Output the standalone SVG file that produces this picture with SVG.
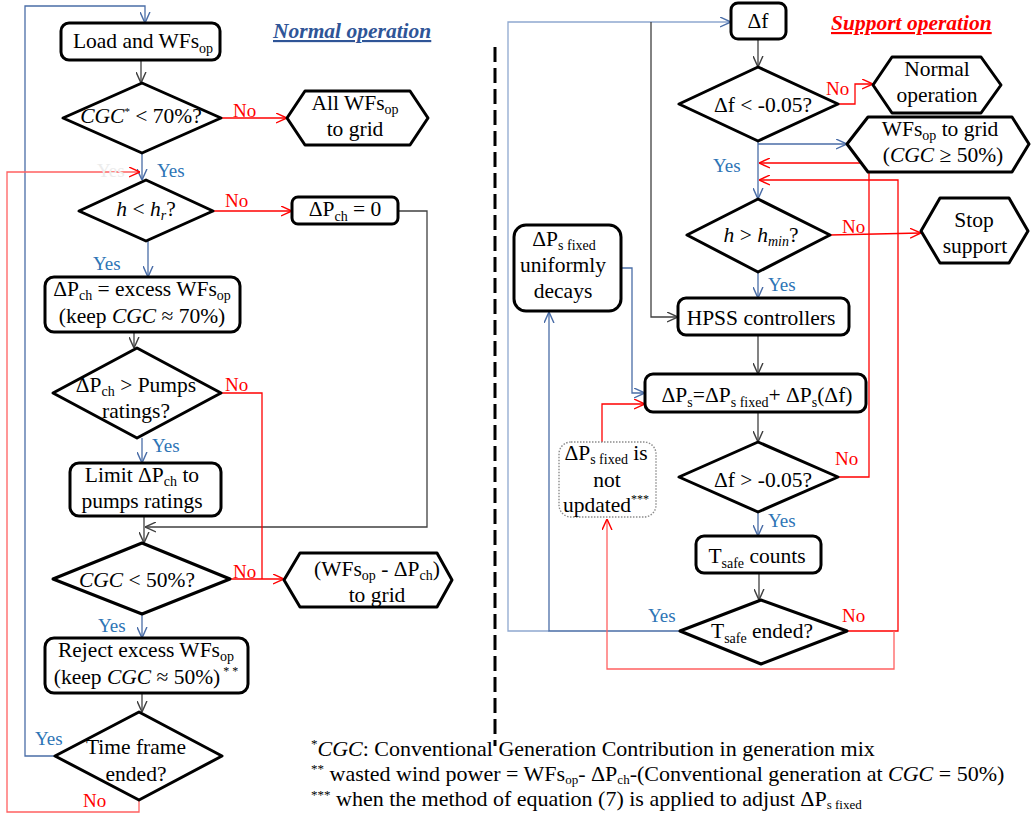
<svg xmlns="http://www.w3.org/2000/svg" width="1031" height="821" viewBox="0 0 1031 821">
<defs>
<style>
text{font-family:'Liberation Serif','DejaVu Serif','Noto Serif',serif}
.t{font-size:21.5px;fill:#000}
.c{text-anchor:middle}
.s{font-size:14px}
.i{font-style:italic}
.yes{font-size:19px;fill:#2e75b6}
.no{font-size:19px;fill:#ff0000}
.node{fill:#fff;stroke:#000;stroke-width:3;stroke-linejoin:round}
.cb{fill:none;stroke:#4a6da7;stroke-width:1.3}
.cl{fill:none;stroke:#8fa8cf;stroke-width:1.3}
.cr{fill:none;stroke:#ff0000;stroke-width:1.3}
.cp{fill:none;stroke:#ff6060;stroke-width:1.3}
.cg{fill:none;stroke:#404040;stroke-width:1.3}
.title{font-size:21.5px;font-weight:bold;font-style:italic;text-decoration:underline}
.fn{font-size:22px;fill:#000}
.fs{font-size:13px}
</style>
<marker id="ab" viewBox="0 0 10 10" refX="10" refY="5" markerWidth="11" markerHeight="11" markerUnits="userSpaceOnUse" orient="auto"><path d="M0,0.5 L10,5 L0,9.5" fill="none" stroke="#4a6da7" stroke-width="1.3"/></marker>
<marker id="ar" viewBox="0 0 10 10" refX="10" refY="5" markerWidth="11" markerHeight="11" markerUnits="userSpaceOnUse" orient="auto"><path d="M0,0.5 L10,5 L0,9.5" fill="none" stroke="#ff0000" stroke-width="1.3"/></marker>
<marker id="ag" viewBox="0 0 10 10" refX="10" refY="5" markerWidth="11" markerHeight="11" markerUnits="userSpaceOnUse" orient="auto"><path d="M0,0.5 L10,5 L0,9.5" fill="none" stroke="#404040" stroke-width="1.3"/></marker>
</defs>
<rect width="1031" height="821" fill="#fff"/>

<g id="connectors">
<path class="cb" d="M55,756 H25 V6 H145 V23" marker-end="url(#ab)"/>
<path class="cg" d="M141,60 V83" marker-end="url(#ag)"/>
<path class="cb" d="M142,153 V180" marker-end="url(#ab)"/>
<path class="cp" d="M139,800 V812 H7 V172 H140" marker-end="url(#ar)"/>
<path class="cr" d="M221,118 H287" marker-end="url(#ar)"/>
<path class="cr" d="M213,211 H292" marker-end="url(#ar)"/>
<path class="cg" stroke="#707070" d="M398,211 H427 V527 H145" marker-end="url(#ag)"/>
<path class="cb" d="M148,241 V277" marker-end="url(#ab)"/>
<path class="cg" d="M134,332 V348" marker-end="url(#ag)"/>
<path class="cb" d="M142,438 V463" marker-end="url(#ab)"/>
<path class="cr" d="M221,393 H262 V579"/>
<path class="cr" d="M230,579 H284" marker-end="url(#ar)"/>
<path class="cg" d="M144,516 V543" marker-end="url(#ag)"/>
<path class="cb" d="M142,614 V638" marker-end="url(#ab)"/>
<path class="cg" d="M142,693 V712" marker-end="url(#ag)"/>
<path class="cl" d="M549,631 H508 V22 H731" marker-end="url(#ab)"/>
<path class="cb" d="M680,631 H549 V312" marker-end="url(#ab)"/>
<path class="cg" d="M651,22 V317 H678" marker-end="url(#ag)"/>
<path class="cg" d="M758,39 V67" marker-end="url(#ag)"/>
<path class="cr" d="M838,104 H855 V84 H873" marker-end="url(#ar)"/>
<path class="cb" d="M758,141 V199" marker-end="url(#ab)"/>
<path class="cb" d="M758,144 H847" marker-end="url(#ab)"/>
<path class="cr" d="M838,477 H869 V163 H759" marker-end="url(#ar)"/>
<path class="cr" d="M847,631 H898 V180 H759" marker-end="url(#ar)"/>
<path class="cp" d="M894,631 V669 H607 V519" marker-end="url(#ar)"/>
<path class="cr" d="M830,235 L921,233" marker-end="url(#ar)"/>
<path class="cb" d="M758,272 V298" marker-end="url(#ab)"/>
<path class="cg" d="M758,335 V374" marker-end="url(#ag)"/>
<path class="cb" d="M621,268 H632 V393 H645" marker-end="url(#ab)"/>
<path class="cr" d="M602,442 V404 H645" marker-end="url(#ar)"/>
<path class="cg" d="M758,412 V442" marker-end="url(#ag)"/>
<path class="cb" d="M758,512 V536" marker-end="url(#ab)"/>
<path class="cg" d="M759,573 V600" marker-end="url(#ag)"/>
</g>

<g id="divider"><path d="M495,47 V746" stroke="#000" stroke-width="3" stroke-dasharray="15 6"/></g>

<g id="titles">
<text class="title" x="273" y="38" fill="#2f5597">Normal operation</text>
<text class="title" x="831" y="30" fill="#ff0000">Support operation</text>
</g>

<g id="labels">
<text class="yes" x="97" y="177" style="fill:#ececec">Yes</text>
<text class="yes" x="157" y="177">Yes</text>
<text class="no" x="233" y="117">No</text>
<text class="no" x="225" y="207">No</text>
<text class="yes" x="93" y="270">Yes</text>
<text class="no" x="225" y="391">No</text>
<text class="yes" x="152" y="452">Yes</text>
<text class="no" x="233" y="578">No</text>
<text class="yes" x="98" y="632">Yes</text>
<text class="yes" x="35" y="745">Yes</text>
<text class="no" x="83" y="807">No</text>
<text class="no" x="826" y="95">No</text>
<text class="yes" x="713" y="172">Yes</text>
<text class="no" x="842" y="233">No</text>
<text class="yes" x="768" y="291">Yes</text>
<text class="no" x="835" y="465">No</text>
<text class="yes" x="768" y="527">Yes</text>
<text class="yes" x="648" y="622">Yes</text>
<text class="no" x="842" y="622">No</text>
</g>

<g id="n-load"><rect class="node" x="61" y="23" width="159" height="37" rx="8"/>
<text class="t c" x="143" y="48">Load and WFs<tspan class="s" dy="5">op</tspan></text></g>

<g id="n-cgc70"><polygon class="node" points="63,118 142,83 221,118 142,153"/>
<text class="t c" x="141" y="123"><tspan class="i">CGC</tspan><tspan font-size="11" dy="-8">*</tspan><tspan dy="8"> &lt; 70%?</tspan></text></g>

<g id="n-allwfs"><polygon class="node" points="287,118 305,91 410,91 428,118 410,145 305,145"/>
<text class="t c" x="355" y="110">All WFs<tspan class="s" dy="4">op</tspan></text>
<text class="t c" x="355" y="136">to grid</text></g>

<g id="n-hhr"><polygon class="node" points="79,211 146,180 213,211 146,241"/>
<text class="t c" x="146" y="216"><tspan class="i">h</tspan> &lt; <tspan class="i">h</tspan><tspan class="s i" dy="4">r</tspan><tspan dy="-4">?</tspan></text></g>

<g id="n-dpch0"><rect class="node" x="292" y="197" width="106" height="27" rx="6"/>
<text class="t c" x="345" y="216">ΔP<tspan class="s" dy="5">ch</tspan><tspan dy="-5"> = 0</tspan></text></g>

<g id="n-excess"><rect class="node" x="45" y="277" width="195" height="55" rx="9"/>
<text class="t c" x="142" y="296">ΔP<tspan class="s" dy="4">ch</tspan><tspan dy="-4"> = excess WFs</tspan><tspan class="s" dy="4">op</tspan></text>
<text class="t c" x="142" y="323">(keep <tspan class="i">CGC</tspan> ≈ 70%)</text></g>

<g id="n-pumps"><polygon class="node" points="53,393 137,348 221,393 137,438"/>
<text class="t c" x="136" y="392">ΔP<tspan class="s" dy="4">ch</tspan><tspan dy="-4"> &gt; Pumps</tspan></text>
<text class="t c" x="136" y="418">ratings?</text></g>

<g id="n-limit"><rect class="node" x="70" y="463" width="151" height="53" rx="9"/>
<text class="t c" x="142" y="482">Limit ΔP<tspan class="s" dy="4">ch</tspan><tspan dy="-4"> to</tspan></text>
<text class="t c" x="142" y="508">pumps ratings</text></g>

<g id="n-cgc50"><polygon class="node" points="53,579 142,543 230,579 142,614"/>
<text class="t c" x="137" y="587"><tspan class="i">CGC</tspan> &lt; 50%?</text></g>

<g id="n-wfsdpch"><polygon class="node" points="284,580 300,553 437,553 452,580 437,607 300,607"/>
<text class="t c" x="377" y="576">(WFs<tspan class="s" dy="4">op</tspan><tspan dy="-4"> - ΔP</tspan><tspan class="s" dy="4">ch</tspan><tspan dy="-4">)</tspan></text>
<text class="t c" x="377" y="602">to grid</text></g>

<g id="n-reject"><rect class="node" x="45" y="638" width="203" height="55" rx="9"/>
<text class="t c" x="146" y="657">Reject excess WFs<tspan class="s" dy="4">op</tspan></text>
<text class="t c" x="146" y="684">(keep <tspan class="i">CGC</tspan> ≈ 50%)<tspan font-size="12" dy="-9"> * *</tspan></text></g>

<g id="n-time"><polygon class="node" points="55,756 139,712 222,756 139,800"/>
<text class="t c" x="136" y="754">Time frame</text>
<text class="t c" x="136" y="781">ended?</text></g>

<g id="n-df"><rect class="node" x="731" y="3" width="55" height="36" rx="7"/>
<text class="t c" x="758" y="28">Δf</text></g>

<g id="n-dflt"><polygon class="node" points="679,104 758,67 838,104 758,141"/>
<text class="t c" x="763" y="112">Δf &lt; -0.05?</text></g>

<g id="n-normal"><polygon class="node" points="873,85 892,57 981,57 1001,85 981,113 892,113"/>
<text class="t c" x="937" y="76">Normal</text>
<text class="t c" x="937" y="102">operation</text></g>

<g id="n-wfsgrid"><polygon class="node" points="847,144 868,117 1012,117 1029,144 1012,172 868,172"/>
<text class="t c" x="940" y="136">WFs<tspan class="s" dy="4">op</tspan><tspan dy="-4"> to grid</tspan></text>
<text class="t c" x="943" y="162">(<tspan class="i">CGC</tspan>  ≥ 50%)</text></g>

<g id="n-hmin"><polygon class="node" points="687,235 758,199 830,235 758,272"/>
<text class="t c" x="761" y="242"><tspan class="i">h</tspan> &gt; <tspan class="i">h</tspan><tspan class="s i" dy="4">min</tspan><tspan dy="-4">?</tspan></text></g>

<g id="n-stop"><polygon class="node" points="921,231 940,198 1009,198 1028,231 1009,263 940,263"/>
<text class="t c" x="974" y="227">Stop</text>
<text class="t c" x="975" y="253">support</text></g>

<g id="n-hpss"><rect class="node" x="678" y="298" width="171" height="37" rx="8"/>
<text class="t c" x="761" y="325">HPSS controllers</text></g>

<g id="n-decay"><rect class="node" x="514" y="225" width="107" height="86" rx="12"/>
<text class="t c" x="564" y="246">ΔP<tspan class="s" dy="4">s fixed</tspan></text>
<text class="t c" x="563" y="272">uniformly</text>
<text class="t c" x="563" y="298">decays</text></g>

<g id="n-dps"><rect class="node" x="645" y="374" width="221" height="38" rx="8"/>
<text class="t c" x="757" y="402">ΔP<tspan class="s" dy="5">s</tspan><tspan dy="-5">=ΔP</tspan><tspan class="s" dy="5">s  fixed</tspan><tspan dy="-5">+ ΔP</tspan><tspan class="s" dy="5">s</tspan><tspan dy="-5">(Δf)</tspan></text></g>

<g id="n-notupd"><rect x="559" y="442" width="97" height="75" rx="12" fill="#fff" stroke="#8c8c8c" stroke-width="1.4" stroke-dasharray="1.5 1.5"/>
<text class="t c" x="606" y="460">ΔP<tspan class="s" dy="4">s fixed</tspan><tspan dy="-4"> is</tspan></text>
<text class="t c" x="607" y="487">not</text>
<text class="t c" x="606" y="512">updated<tspan font-size="12" dy="-9">***</tspan></text></g>

<g id="n-dfgt"><polygon class="node" points="679,477 758,442 838,477 758,512"/>
<text class="t c" x="763" y="487">Δf &gt; -0.05?</text></g>

<g id="n-tcount"><rect class="node" x="696" y="536" width="125" height="37" rx="8"/>
<text class="t c" x="757" y="563">T<tspan class="s" dy="5">safe</tspan><tspan dy="-5"> counts</tspan></text></g>

<g id="n-tend"><polygon class="node" points="680,631 761,600 847,631 761,664"/>
<text class="t c" x="762" y="638">T<tspan class="s" dy="5">safe</tspan><tspan dy="-5"> ended?</tspan></text></g>

<g id="footnotes">
<text class="fn" x="311" y="756"><tspan class="fs" dy="-8">*</tspan><tspan dy="8" font-style="italic">CGC</tspan>: Conventional Generation Contribution in generation mix</text>
<text class="fn" x="311" y="781"><tspan class="fs" dy="-8">**</tspan><tspan dy="8"> wasted wind power = WFs</tspan><tspan class="fs" dy="3">op</tspan><tspan dy="-3">- ΔP</tspan><tspan class="fs" dy="3">ch</tspan><tspan dy="-3">-(Conventional generation at </tspan><tspan font-style="italic">CGC</tspan> = 50%)</text>
<text class="fn" x="311" y="806"><tspan class="fs" dy="-7">***</tspan><tspan dy="7"> when the method of equation (7) is applied to adjust ΔP</tspan><tspan class="fs" dy="3">s fixed</tspan></text>
</g>
</svg>
